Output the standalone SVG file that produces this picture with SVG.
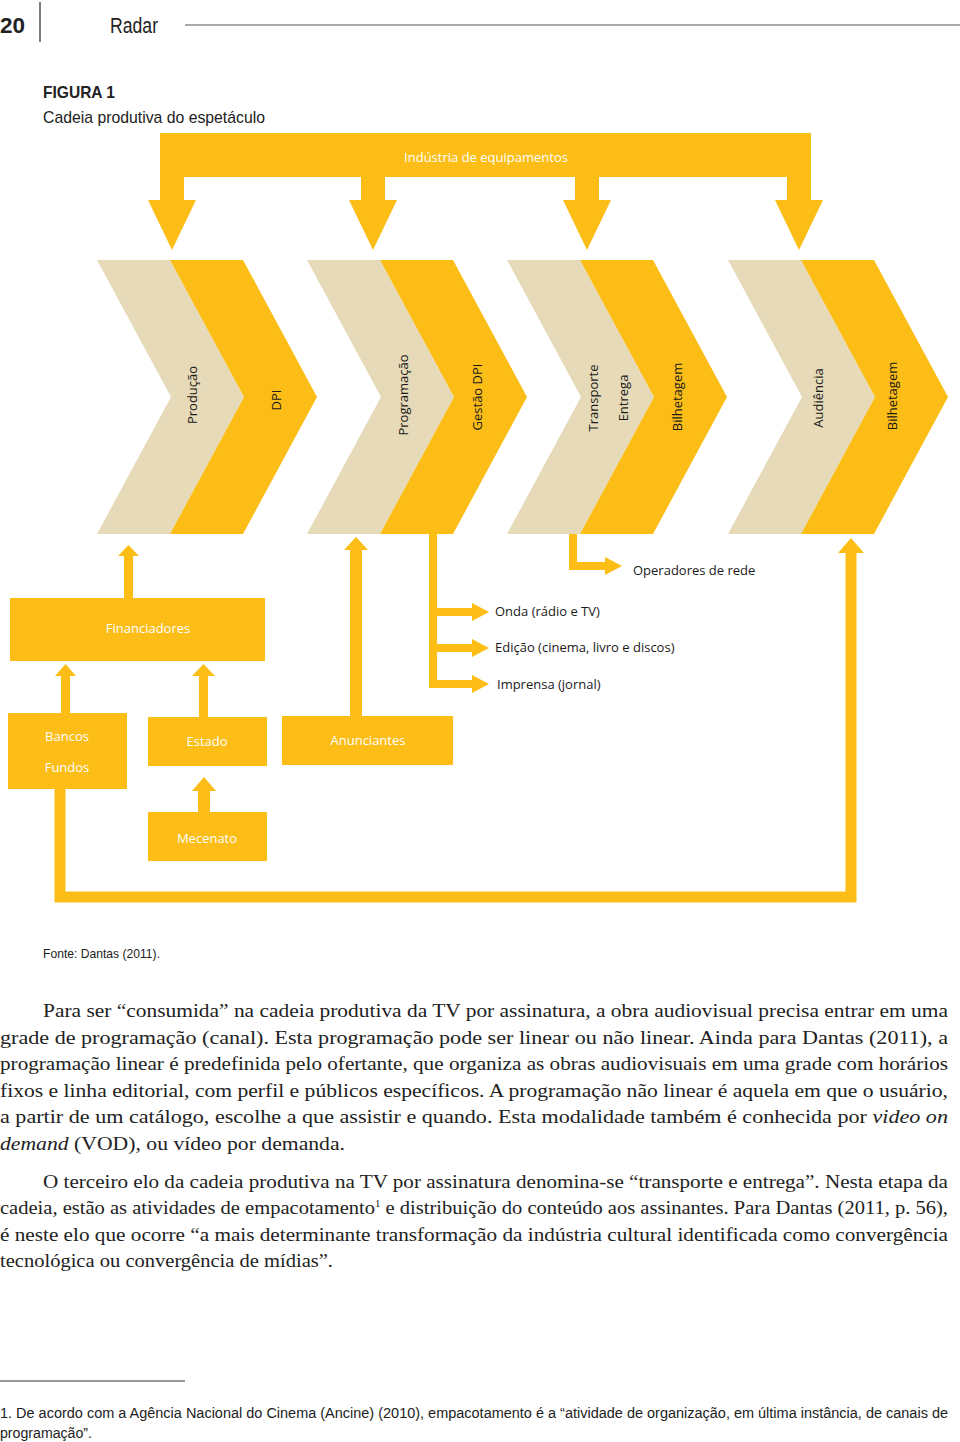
<svg xmlns="http://www.w3.org/2000/svg" width="960" height="1442" viewBox="0 0 960 1442">
<style>
.y{fill:#FBBD16}
.b{fill:#E6DAB8}
.ln{stroke:#FBBD16;fill:none;stroke-linejoin:miter}
.lbl{font-family:"Open Sans","DejaVu Sans",sans-serif;font-size:13px;fill:#1a1a1a}
.wl{font-family:"Open Sans","DejaVu Sans",sans-serif;font-size:13px;fill:#ffffff;text-anchor:middle}
.vl{font-family:"Open Sans","DejaVu Sans",sans-serif;font-size:13px;fill:#1a1a1a;text-anchor:middle}
.body{font-family:"Liberation Serif","Times New Roman",serif;font-size:19px;fill:#222}
.hd{font-family:"Liberation Sans",Arial,sans-serif;fill:#222}
</style>
<rect width="960" height="1442" fill="#ffffff"/>

<g id="header">
<text class="hd" x="0" y="33" font-size="22" font-weight="bold" textLength="25" lengthAdjust="spacingAndGlyphs">20</text>
<line x1="40" y1="2" x2="40" y2="42" stroke="#555" stroke-width="1.5"/>
<text class="hd" x="110" y="33" font-size="22" fill="#444" textLength="48" lengthAdjust="spacingAndGlyphs">Radar</text>
<line x1="185" y1="25" x2="960" y2="25" stroke="#555" stroke-width="1"/>
<text class="hd" x="43" y="98" font-size="17" font-weight="bold" textLength="72" lengthAdjust="spacingAndGlyphs">FIGURA 1</text>
<text class="hd" x="43" y="123" font-size="17" textLength="222" lengthAdjust="spacingAndGlyphs">Cadeia produtiva do espetáculo</text>
</g>

<g id="industria">
<rect class="y" x="160" y="133" width="651" height="44"/>
<text class="wl" x="486" y="162">Indústria de equipamentos</text>
</g>

<g id="connectors">
<!-- top down arrows -->
<polygon class="y" points="160,177 184,177 184,200 196,200 172,250 148,200 160,200"/>
<polygon class="y" points="361,177 385,177 385,200 397,200 373,250 349,200 361,200"/>
<polygon class="y" points="575,177 599,177 599,200 611,200 587,250 563,200 575,200"/>
<polygon class="y" points="787,177 811,177 811,200 823,200 799,250 775,200 787,200"/>
<!-- Financiadores to chain -->
<rect class="y" x="124" y="554" width="9" height="45"/>
<polygon class="y" points="118,556 128.5,545 139,556"/>
<!-- Anunciantes to chain -->
<rect class="y" x="350" y="548" width="12" height="169"/>
<polygon class="y" points="344,550 356,537 368,550"/>
<!-- Bancos to Financiadores -->
<rect class="y" x="61" y="674" width="9" height="40"/>
<polygon class="y" points="55,676 65.5,664 76,676"/>
<!-- Estado to Financiadores -->
<rect class="y" x="199" y="674" width="9" height="44"/>
<polygon class="y" points="192,676 203.5,664 215,676"/>
<!-- Mecenato to Estado -->
<rect class="y" x="198" y="789" width="12" height="24"/>
<polygon class="y" points="192,791 204,777 216,791"/>
<!-- Gestão DPI bracket -->
<path class="ln" stroke-width="8" d="M433,534 V688 M433,612 H474 M433,648 H474 M433,684 H474"/>
<polygon class="y" points="472,603 489,612 472,621"/>
<polygon class="y" points="472,639 489,648 472,657"/>
<polygon class="y" points="472,675 489,684 472,693"/>
<!-- Operadores de rede -->
<path class="ln" stroke-width="8" d="M573,534 V566 H607"/>
<polygon class="y" points="605,557 622,566 605,575"/>
<!-- bottom loop -->
<path class="ln" stroke-width="11" d="M60,789 V897 H851 V551"/>
<polygon class="y" points="838,553 851,538 864,553"/>
</g>

<g id="chain1">
<path class="b" d="M97,260 L170,260 L244,397 L170,534 L97,534 L171,397 Z"/>
<path class="y" d="M170,260 L243,260 L317,397 L243,534 L170,534 L244,397 Z"/>
<text class="vl" transform="translate(192,395) rotate(-90)" dy="0.35em">Produção</text>
<text class="vl" transform="translate(276,400) rotate(-90)" dy="0.35em">DPI</text>
</g>
<g id="chain2">
<path class="b" d="M307,260 L380,260 L454,397 L380,534 L307,534 L381,397 Z"/>
<path class="y" d="M380,260 L453,260 L527,397 L453,534 L380,534 L454,397 Z"/>
<text class="vl" transform="translate(403,395) rotate(-90)" dy="0.35em">Programação</text>
<text class="vl" transform="translate(477,397) rotate(-90)" dy="0.35em">Gestão DPI</text>
</g>
<g id="chain3">
<path class="b" d="M507,260 L580,260 L654,397 L580,534 L507,534 L581,397 Z"/>
<path class="y" d="M580,260 L653,260 L727,397 L653,534 L580,534 L654,397 Z"/>
<text class="vl" transform="translate(593,398) rotate(-90)" dy="0.35em">Transporte</text>
<text class="vl" transform="translate(623,398) rotate(-90)" dy="0.35em">Entrega</text>
<text class="vl" transform="translate(677,397) rotate(-90)" dy="0.35em">Bilhetagem</text>
</g>
<g id="chain4">
<path class="b" d="M728,260 L801,260 L875,397 L801,534 L728,534 L802,397 Z"/>
<path class="y" d="M801,260 L874,260 L948,397 L874,534 L801,534 L875,397 Z"/>
<text class="vl" transform="translate(818,398) rotate(-90)" dy="0.35em">Audiência</text>
<text class="vl" transform="translate(892,396) rotate(-90)" dy="0.35em">Bilhetagem</text>
</g>

<g id="operadores"><text class="lbl" x="633" y="575">Operadores de rede</text></g>
<g id="onda"><text class="lbl" x="495" y="616">Onda (rádio e TV)</text></g>
<g id="edicao"><text class="lbl" x="495" y="652">Edição (cinema, livro e discos)</text></g>
<g id="imprensa"><text class="lbl" x="497" y="689">Imprensa (jornal)</text></g>

<g id="financiadores">
<rect class="y" x="10" y="598" width="255" height="63"/>
<text class="wl" x="148" y="633">Financiadores</text>
</g>
<g id="bancos">
<rect class="y" x="8" y="713" width="119" height="76"/>
<text class="wl" x="67" y="741">Bancos</text>
<text class="wl" x="67" y="772">Fundos</text>
</g>
<g id="estado">
<rect class="y" x="148" y="717" width="119" height="49"/>
<text class="wl" x="207" y="746">Estado</text>
</g>
<g id="anunciantes">
<rect class="y" x="282" y="716" width="171" height="49"/>
<text class="wl" x="368" y="745">Anunciantes</text>
</g>
<g id="mecenato">
<rect class="y" x="148" y="812" width="119" height="49"/>
<text class="wl" x="207" y="843">Mecenato</text>
</g>

<g id="fonte">
<text class="hd" x="43" y="958" font-size="13" fill="#333" textLength="117" lengthAdjust="spacingAndGlyphs">Fonte: Dantas (2011).</text>
</g>

<g id="bodytext">
<text class="body" x="43" y="1017" textLength="905" lengthAdjust="spacingAndGlyphs">Para ser “consumida” na cadeia produtiva da TV por assinatura, a obra audiovisual precisa entrar em uma</text>
<text class="body" x="0" y="1044" textLength="948" lengthAdjust="spacingAndGlyphs">grade de programação (canal). Esta programação pode ser linear ou não linear. Ainda para Dantas (2011), a</text>
<text class="body" x="0" y="1070" textLength="948" lengthAdjust="spacingAndGlyphs">programação linear é predefinida pelo ofertante, que organiza as obras audiovisuais em uma grade com horários</text>
<text class="body" x="0" y="1097" textLength="948" lengthAdjust="spacingAndGlyphs">fixos e linha editorial, com perfil e públicos específicos. A programação não linear é aquela em que o usuário,</text>
<text class="body" x="0" y="1123" textLength="948" lengthAdjust="spacingAndGlyphs">a partir de um catálogo, escolhe a que assistir e quando. Esta modalidade também é conhecida por <tspan font-style="italic">video on</tspan></text>
<text class="body" x="0" y="1150" textLength="345" lengthAdjust="spacingAndGlyphs"><tspan font-style="italic">demand</tspan> (VOD), ou vídeo por demanda.</text>
<text class="body" x="43" y="1188" textLength="905" lengthAdjust="spacingAndGlyphs">O terceiro elo da cadeia produtiva na TV por assinatura denomina-se “transporte e entrega”. Nesta etapa da</text>
<text class="body" x="0" y="1214" textLength="948" lengthAdjust="spacingAndGlyphs">cadeia, estão as atividades de empacotamento<tspan font-size="10" dy="-7">1</tspan><tspan dy="7"> e distribuição do conteúdo aos assinantes. Para Dantas (2011, p. 56),</tspan></text>
<text class="body" x="0" y="1241" textLength="948" lengthAdjust="spacingAndGlyphs">é neste elo que ocorre “a mais determinante transformação da indústria cultural identificada como convergência</text>
<text class="body" x="0" y="1267" textLength="333" lengthAdjust="spacingAndGlyphs">tecnológica ou convergência de mídias”.</text>
</g>

<g id="footnote">
<line x1="0" y1="1381" x2="185" y2="1381" stroke="#333" stroke-width="1"/>
<text class="hd" x="0" y="1418" font-size="14" fill="#333" textLength="948" lengthAdjust="spacingAndGlyphs">1. De acordo com a Agência Nacional do Cinema (Ancine) (2010), empacotamento é a “atividade de organização, em última instância, de canais de</text>
<text class="hd" x="0" y="1438" font-size="14" fill="#333" textLength="92" lengthAdjust="spacingAndGlyphs">programação”.</text>
</g>
</svg>
